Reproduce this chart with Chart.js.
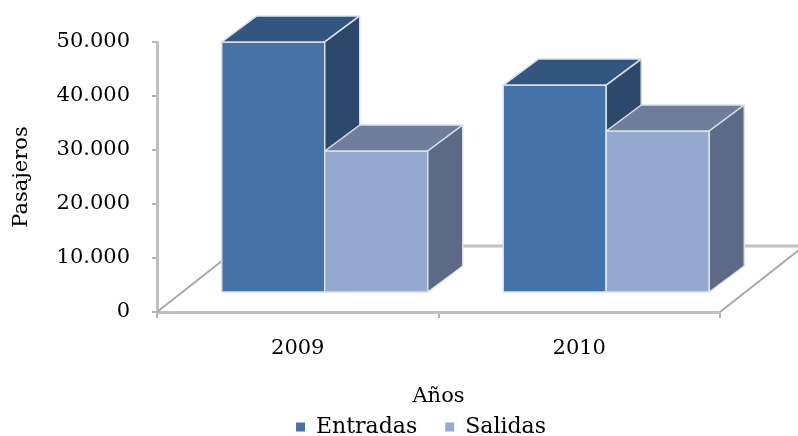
<!DOCTYPE html>
<html>
<head>
<meta charset="utf-8">
<script src="https://cdn.jsdelivr.net/npm/chart.js@4"></script>
<style>
  html, body { margin: 0; background: #fff; }
</style>
</head>
<body>
<canvas id="chart" width="798" height="436"></canvas>
<script>
// Datos del gráfico
const years = ['2009', '2010'];
const entradas = [46500, 38500];
const salidas = [26300, 30000];
const yTicks = [0, 10000, 20000, 30000, 40000, 50000];

// Colores de cada cara: frente, arriba, lado
const faces = [
    { front: '#4572a7', top: '#33567f', side: '#2c486b' }, // Entradas
    { front: '#95a9cf', top: '#6f7f9b', side: '#5d6a85' }  // Salidas
];

const font = { family: 'DejaVu Serif', size: 21 };

// Separador de miles con punto
function formatNumber(v) {
    return String(v).replace(/\B(?=(\d{3})+(?!\d))/g, '.');
}

// Dibuja el piso y las barras en 3D
const cubes = {
    id: 'cubes',
    beforeDatasetsDraw(chart) {
        const ctx = chart.ctx;
        const area = chart.chartArea;
        const y0 = chart.scales.y.getPixelForValue(0);
        const fx = 27, fy = -19;   // desplazamiento de la cara frontal
        const dx = 35, dy = -26;   // profundidad de la barra
        const floorX = 84, floorY = -66;

        ctx.save();
        ctx.strokeStyle = '#a8a8a8';
        ctx.lineWidth = 2;
        ctx.beginPath();
        ctx.moveTo(area.left, y0);
        ctx.lineTo(area.left + floorX, y0 + floorY);
        ctx.moveTo(area.right, y0);
        ctx.lineTo(area.right + floorX, y0 + floorY);
        ctx.stroke();
        ctx.strokeStyle = '#c0c0c0';
        ctx.lineWidth = 3;
        ctx.beginPath();
        ctx.moveTo(area.left + floorX, y0 + floorY);
        ctx.lineTo(area.right + floorX, y0 + floorY);
        ctx.stroke();

        ctx.lineWidth = 1.5;
        ctx.strokeStyle = '#dbe1ec';
        ctx.lineJoin = 'round';
        years.forEach((_, i) => {
            chart.data.datasets.forEach((ds, d) => {
                const el = chart.getDatasetMeta(d).data[i];
                const x0 = el.x - el.width / 2 + fx;
                const x1 = el.x + el.width / 2 + fx;
                const yT = el.y + fy;
                const yB = el.base + fy;
                const c = faces[d];

                ctx.fillStyle = c.front;
                ctx.beginPath();
                ctx.rect(x0, yT, x1 - x0, yB - yT);
                ctx.fill();
                ctx.stroke();

                ctx.fillStyle = c.top;
                ctx.beginPath();
                ctx.moveTo(x0, yT);
                ctx.lineTo(x0 + dx, yT + dy);
                ctx.lineTo(x1 + dx, yT + dy);
                ctx.lineTo(x1, yT);
                ctx.closePath();
                ctx.fill();
                ctx.stroke();

                ctx.fillStyle = c.side;
                ctx.beginPath();
                ctx.moveTo(x1, yT);
                ctx.lineTo(x1 + dx, yT + dy);
                ctx.lineTo(x1 + dx, yB + dy);
                ctx.lineTo(x1, yB);
                ctx.closePath();
                ctx.fill();
                ctx.stroke();
            });
        });
        ctx.restore();
        return false;
    }
};

// Mueve la leyenda bajo el título del eje
const legendShift = {
    id: 'legendShift',
    afterLayout(chart) {
        const lg = chart.legend;
        lg.left += 61;
        lg.right += 61;
        lg.top -= 24;
        lg.height += 24;
    }
};

new Chart(document.getElementById('chart'), {
    type: 'bar',
    data: {
        labels: years,
        datasets: [
            { label: 'Entradas', data: entradas, backgroundColor: faces[0].front, borderWidth: 0,
              categoryPercentage: 0.732, barPercentage: 1 },
            { label: 'Salidas', data: salidas, backgroundColor: faces[1].front, borderWidth: 0,
              categoryPercentage: 0.732, barPercentage: 1 }
        ]
    },
    options: {
        responsive: false,
        animation: false,
        layout: { padding: { top: 42, right: 78, left: 0, bottom: 0 } },
        scales: {
            x: {
                grid: { drawOnChartArea: false, tickLength: 6, color: '#b3b3b3', lineWidth: 2, offset: true },
                border: { color: '#c0c0c0', width: 3 },
                ticks: { font: font, color: '#000', padding: 18 },
                title: { display: true, text: 'Años', font: font, color: '#000', padding: { top: 0, bottom: 3 } },
                afterFit: s => { s.height = 100; }
            },
            y: {
                min: 0,
                max: 50000,
                afterBuildTicks: s => { s.ticks = yTicks.map(v => ({ value: v })); },
                grid: { drawOnChartArea: false, tickLength: 5, color: '#b3b3b3', lineWidth: 2 },
                border: { color: '#c0c0c0', width: 3 },
                ticks: { font: font, color: '#000', padding: 22, callback: v => formatNumber(v) },
                title: { display: true, text: 'Pasajeros', font: font, color: '#000', padding: { top: 9, bottom: 0 } },
                afterFit: s => { s.width = 157; }
            }
        },
        plugins: {
            legend: {
                position: 'bottom',
                maxHeight: 24,
                labels: {
                    boxWidth: 9,
                    boxHeight: 9,
                    padding: 28,
                    color: '#000',
                    font: { family: 'DejaVu Serif', size: 22 }
                }
            },
            tooltip: { enabled: false }
        }
    },
    plugins: [cubes, legendShift]
});
</script>
</body>
</html>
